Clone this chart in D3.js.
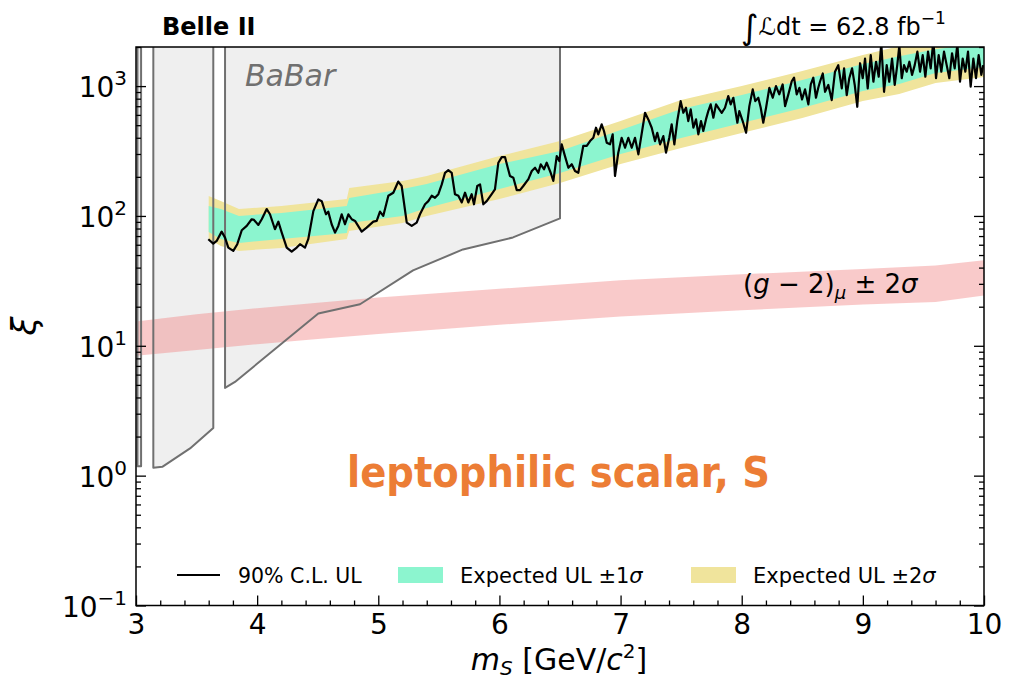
<!DOCTYPE html>
<html>
<head>
<meta charset="utf-8">
<script src="https://cdn.jsdelivr.net/npm/d3@7"></script>
<style>
  body { margin: 0; background: #fff; }
  text { font-family: "DejaVu Sans", sans-serif; }
</style>
</head>
<body>
<svg id="chart" width="1020" height="682"></svg>
<script>
var obsMass = [3.597,3.638,3.666,3.707,3.735,3.762,3.803,3.836,3.873,3.914,3.955,3.974,4.010,4.038,4.079,4.106,4.147,4.175,4.203,4.244,4.285,4.327,4.354,4.395,4.422,4.464,4.505,4.533,4.568,4.587,4.615,4.643,4.670,4.698,4.725,4.753,4.781,4.808,4.863,4.904,4.959,4.987,5.014,5.041,5.083,5.124,5.165,5.193,5.235,5.276,5.317,
  5.344,5.386,5.413,5.441,5.468,5.496,5.524,5.551,5.578,5.606,5.633,5.661,5.689,5.716,5.743,5.771,5.790,5.817,5.840,5.867,5.895,5.936,5.963,5.991,6.019,6.046,6.065,6.087,6.115,6.143,6.170,6.197,6.239,6.267,6.294,6.321,6.341,6.368,6.390,6.423,6.445,6.473,6.494,6.514,6.541,6.569,6.597,6.624,6.651,6.692,6.721,6.748,6.775,6.797,6.816,6.844,6.863,6.886,6.913,6.935,6.954,6.981,7.009,7.037,7.064,7.092,7.119,7.147,
  7.202,7.229,7.257,7.284,7.303,7.326,7.353,7.375,7.402,7.422,7.444,7.468,7.496,7.518,7.540,7.559,7.579,7.601,7.623,7.642,7.664,7.683,7.705,7.724,7.744,7.766,7.788,7.815,7.835,7.862,7.889,7.909,7.931,7.964,7.980,8.008,8.036,8.063,8.091,8.112,8.137,8.157,8.178,8.201,8.228,8.256,8.283,8.310,8.338,8.358,8.385,8.413,8.432,8.454,8.476,8.498,8.523,8.550,8.570,8.591,8.613,8.632,
  8.646,8.669,8.688,8.715,8.743,8.770,8.797,8.826,8.845,8.867,8.888,8.911,8.933,8.954,8.977,8.999,9.018,9.040,9.065,9.087,9.109,9.131,9.152,9.175,9.197,9.218,9.241,9.263,9.284,9.301,9.321,9.340,9.362,9.384,9.406,9.428,9.450,9.472,9.494,9.516,9.538,9.560,9.582,9.604,9.626,9.648,9.670,9.692,9.714,9.736,9.758,9.780,9.802,9.824,9.846,9.868,9.890,9.912,9.934,9.956,9.978,9.994];
var obsXi = [66.2,61.2,64.2,75.7,68.1,57.1,53.8,60.6,77.6,83.8,94.3,93.2,85.3,94.3,113,103,79,90.4,74.4,57.1,53.1,57.1,60.6,57.1,66.2,109,134,130,103,108,86.3,74.4,83.8,103,86.3,103,94.3,91.5,75.7,81.3,90.4,91.5,108,100,143,151,184,170,88.8,83.8,88.8,
  103,123,130,143,138,147,175,215,225,215,147,143,127,151,127,147,123,170,175,123,130,147,160,257,284,284,242,203,197,158,158,170,192,222,235,215,250,229,257,215,186,289,265,356,289,235,250,222,215,346,346,377,400,478,425,508,451,366,356,425,203,307,400,335,400,335,400,298,
  623,554,478,377,437,356,412,307,400,508,356,538,766,623,681,538,662,478,554,425,538,451,554,642,723,571,723,662,623,681,837,723,813,522,642,538,437,701,943,766,813,681,522,681,970,813,1000,864,1030,701,864,1090,1160,864,970,790,943,723,1030,1160,813,970,
  1080,1250,904,1020,780,1290,1450,960,1370,853,1150,1370,1020,693,1500,1150,1630,960,1730,1080,1540,1180,2150,904,1450,1080,1630,1020,1450,2050,1150,1450,1290,1540,1220,1450,1840,1290,1730,1180,1840,1370,2250,1150,1730,1290,1840,1450,1150,1790,1370,2100,1080,1630,1290,1840,988,1630,1150,1730,1220,1450];

// expected upper limit bands
var expMass = [3.60,3.70,3.85,4.20,4.74,4.76,5.20,5.40,6.00,6.50,7.00,7.50,8.00,8.50,9.00,9.30,9.60,10.0];
var exp2Hi  = [142.5,130.4,113.2,119.4,135.1,164.2,185.8,203,289,377,538,780,1000,1304,1732,2031,2298,2650];
var exp1Hi  = [119.4,113.2,100,105.5,119.4,137.5,161.3,176.3,251,316,459,666,853,1112,1477,1701,1926,2141];
var exp1Lo  = [75.3,66.5,62.0,66.5,74.0,88.4,100,115.2,161.3,214.1,300,398,519,677,915,1036,1259,1400];
var exp2Lo  = [66.5,58.8,53.8,56.7,66.5,76.7,88.4,100,135.1,179.4,251,334,435,567,767,868,1055,1173];

// (g-2)_mu +- 2 sigma band
var gm2Mass = [3,3.5,4,4.5,5,6,7,8,9,9.6,10];
var gm2Hi   = [15.4,17.5,19.5,21.5,23.5,27.5,32,35.5,39,41.6,45.5];
var gm2Lo   = [8.4,9.3,10.3,11.3,12.3,14.5,16.8,18.8,20.8,21.7,24.4];

// BaBar excluded regions (open at the top)
var babarStrip = [[3.012,5000],[3.012,1.18],[3.042,1.18],[3.042,5000]];
var babarLow   = [[3.143,5000],[3.143,1.15],[3.217,1.17],[3.446,1.62],[3.638,2.33],[3.638,5000]];
var babarHigh  = [[3.735,5000],[3.735,4.74],[3.817,5.27],[4.505,17.7],[4.849,20.9],[5.287,38.1],[5.699,55.2],[6.112,68.3],[6.5,95.7],[6.5,5000]];

var xTicks = [3,4,5,6,7,8,9,10];
var yTicks = [0.1,1,10,100,1000];
var yExp   = ["\u22121","0","1","2","3"];

var L = 136, R = 984, T = 47, B = 605.5;
var x = d3.scaleLinear().domain([3,10]).range([L,R]);
var y = d3.scaleLog().domain([0.1,2000]).range([B,T]);

var svg = d3.select("#chart");
svg.append("defs").append("clipPath").attr("id","plotclip")
  .append("rect").attr("x",L).attr("y",T).attr("width",R-L).attr("height",B-T);
var plot = svg.append("g").attr("clip-path","url(#plotclip)");

var line = d3.line().x(function(d){ return x(d[0]); }).y(function(d){ return y(d[1]); });

// BaBar fills
[babarStrip, babarLow, babarHigh].forEach(function(p){
  plot.append("path").attr("d", line(p) + "Z").attr("fill","#efefef").attr("stroke","none");
});

// (g-2) band
var gm2 = d3.zip(gm2Mass, gm2Lo, gm2Hi);
plot.append("path")
  .attr("d", d3.area().x(function(d){ return x(d[0]); })
    .y0(function(d){ return y(d[1]); }).y1(function(d){ return y(d[2]); })(gm2))
  .attr("fill","#f08080").attr("fill-opacity",0.42);

// expected bands
var band = d3.area().x(function(d){ return x(d[0]); })
  .y0(function(d){ return y(d[1]); }).y1(function(d){ return y(d[2]); });
plot.append("path").attr("d", band(d3.zip(expMass, exp2Lo, exp2Hi))).attr("fill","#f0e49c");
plot.append("path").attr("d", band(d3.zip(expMass, exp1Lo, exp1Hi))).attr("fill","#8cf5cf");

// BaBar outlines
[babarStrip, babarLow, babarHigh].forEach(function(p){
  plot.append("path").attr("d", line(p)).attr("fill","none")
    .attr("stroke","#707070").attr("stroke-width",2).attr("stroke-linejoin","round");
});

// observed limit
plot.append("path").attr("d", line(d3.zip(obsMass, obsXi)))
  .attr("fill","none").attr("stroke","#000").attr("stroke-width",2.2).attr("stroke-linejoin","round");

// axes
var minorX = d3.range(3, 10.001, 0.2).filter(function(v){ return Math.abs(v - Math.round(v)) > 1e-6; });
var minorY = [];
[0.1,1,10,100,1000].forEach(function(dec){
  for (var k = 2; k <= 9; k++) if (dec*k <= 2000) minorY.push(dec*k);
});

function styleAxis(g){
  g.select(".domain").remove();
  g.selectAll(".tick line").attr("stroke","#000").attr("stroke-width",1.3);
}

svg.append("g").attr("transform","translate(0,"+B+")")
  .call(d3.axisBottom(x).tickValues(xTicks).tickSize(-10).tickPadding(9).tickFormat(d3.format("d")))
  .call(styleAxis)
  .selectAll("text").attr("font-size",28).attr("font-family","DejaVu Sans").attr("fill","#000");
svg.append("g").attr("transform","translate(0,"+B+")")
  .call(d3.axisBottom(x).tickValues(minorX).tickSize(-5).tickFormat(""))
  .call(styleAxis);

svg.append("g").attr("transform","translate("+L+",0)")
  .call(d3.axisLeft(y).tickValues(yTicks).tickSize(-10).tickFormat(""))
  .call(styleAxis);
svg.append("g").attr("transform","translate("+L+",0)")
  .call(d3.axisLeft(y).tickValues(minorY).tickSize(-5).tickFormat(""))
  .call(styleAxis);
svg.append("g").attr("transform","translate("+R+",0)")
  .call(d3.axisRight(y).tickValues(yTicks).tickSize(-10).tickFormat(""))
  .call(styleAxis);
svg.append("g").attr("transform","translate("+R+",0)")
  .call(d3.axisRight(y).tickValues(minorY).tickSize(-5).tickFormat(""))
  .call(styleAxis);

yTicks.forEach(function(v, i){
  var t = svg.append("text").attr("x", L - 9).attr("y", y(v) + 11)
    .attr("text-anchor","end").attr("font-size",28).attr("fill","#000");
  t.append("tspan").text("10");
  t.append("tspan").attr("dy",-12).attr("font-size",20).text(yExp[i]);
});

svg.append("rect").attr("x",L).attr("y",T).attr("width",R-L).attr("height",B-T)
  .attr("fill","none").attr("stroke","#000").attr("stroke-width",1.5);

// labels
var xl = svg.append("text").attr("x",559).attr("y",670).attr("text-anchor","middle")
  .attr("font-size",30).attr("fill","#000");
xl.append("tspan").attr("font-style","italic").text("m");
xl.append("tspan").attr("font-style","italic").attr("font-size",20).attr("dy",5).text("S");
xl.append("tspan").attr("dy",-5).text(" [GeV/");
xl.append("tspan").attr("font-style","italic").text("c");
xl.append("tspan").attr("font-size",20).attr("dy",-12).text("2");
xl.append("tspan").attr("dy",12).text("]");

svg.append("text").attr("transform","translate(36,326) rotate(-90)")
  .attr("text-anchor","middle").attr("font-size",34).attr("font-style","italic").text("\u03be");

svg.append("text").attr("x",162).attr("y",35).attr("font-size",24).attr("font-weight","bold")
  .text("Belle II");

var lum = svg.append("text").attr("x",741).attr("y",35).attr("font-size",24).attr("fill","#000");
lum.append("tspan").attr("font-size",34).attr("dy",4).text("\u222b");
lum.append("tspan").attr("dy",-4).attr("font-style","italic").text("\u2112");
lum.append("tspan").text("dt = 62.8 fb");
lum.append("tspan").attr("font-size",17).attr("dy",-11).text("\u22121");

svg.append("text").attr("x",245).attr("y",86).attr("font-size",30).attr("font-style","italic")
  .attr("fill","#707070").text("BaBar");

svg.append("text").attr("x",347).attr("y",487)
  .attr("font-family","Liberation Sans, Arial, sans-serif").attr("font-weight","bold")
  .attr("font-size",43).attr("fill","#ec7d35")
  .attr("textLength",423).attr("lengthAdjust","spacingAndGlyphs")
  .text("leptophilic scalar, S");

var gl = svg.append("text").attr("x",743).attr("y",293).attr("font-size",26).attr("fill","#000");
gl.append("tspan").text("(");
gl.append("tspan").attr("font-style","italic").text("g");
gl.append("tspan").text(" \u2212 2)");
gl.append("tspan").attr("font-style","italic").attr("font-size",18).attr("dy",6).text("\u03bc");
gl.append("tspan").attr("dy",-6).text(" \u00b1 2");
gl.append("tspan").attr("font-style","italic").text("\u03c3");

// legend
var lg = svg.append("g");
lg.append("line").attr("x1",177).attr("x2",220).attr("y1",575).attr("y2",575)
  .attr("stroke","#000").attr("stroke-width",2);
lg.append("text").attr("x",238).attr("y",583).attr("font-size",20.5).text("90% C.L. UL");
lg.append("rect").attr("x",398).attr("y",567).attr("width",45).attr("height",16).attr("fill","#8cf5cf");
var t1 = lg.append("text").attr("x",460).attr("y",583).attr("font-size",21);
t1.append("tspan").text("Expected UL \u00b11");
t1.append("tspan").attr("font-style","italic").text("\u03c3");
lg.append("rect").attr("x",691).attr("y",567).attr("width",45).attr("height",16).attr("fill","#f0e49c");
var t2 = lg.append("text").attr("x",753).attr("y",583).attr("font-size",21);
t2.append("tspan").text("Expected UL \u00b12");
t2.append("tspan").attr("font-style","italic").text("\u03c3");
</script>
</body>
</html>
